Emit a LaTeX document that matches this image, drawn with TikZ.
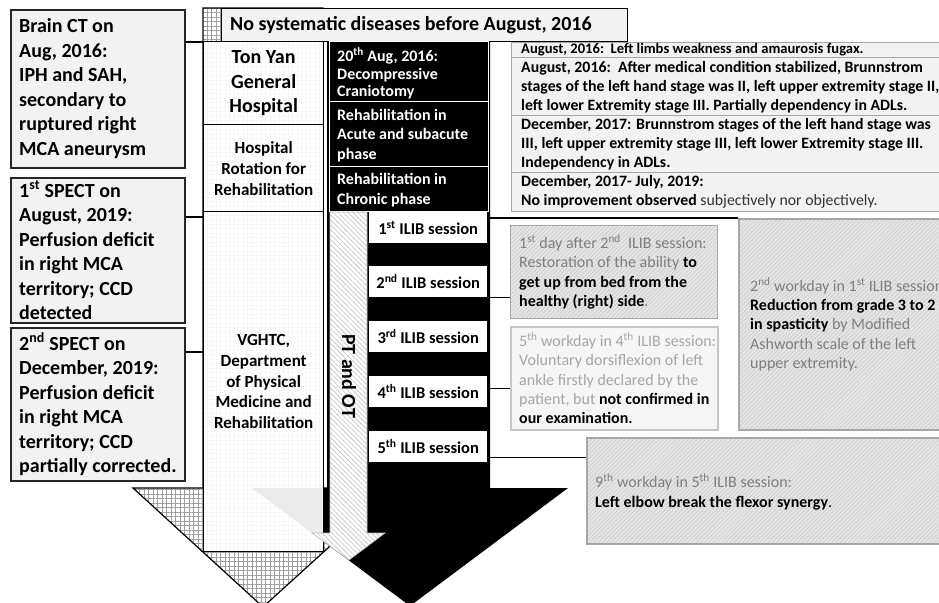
\documentclass[tikz,border=0pt]{standalone}
\usepackage{fontspec}
\setmainfont{Carlito}
\usetikzlibrary{patterns.meta,calc}
\definecolor{boxfill}{HTML}{F2F2F2}
\definecolor{txtgray}{HTML}{7F7F7F}
\definecolor{txtlight}{HTML}{A6A6A6}
\definecolor{bordergray}{HTML}{A6A6A6}
\begin{document}
\begin{tikzpicture}[x=1pt,y=-1pt,
  lbox/.style={draw=black!85, line width=1.6pt, fill=boxfill, anchor=north west, minimum width=174pt, inner sep=0pt},
  ltext/.style={anchor=west, align=left, inner sep=0pt, font=\fontsize{20}{24.5}\selectfont\bfseries},
  hosp/.style={draw=black, line width=1.3pt, fill=white, fill opacity=0.92, text opacity=1, draw opacity=1, anchor=north west, minimum width=120pt, inner sep=0pt, align=center},
  blk/.style={fill=black, draw=white, line width=1pt, anchor=north west, minimum width=159pt, inner sep=0pt},
  btext/.style={anchor=west, align=left, inner sep=0pt, text=white, font=\fontsize{16}{19.5}\selectfont\bfseries},
  ilib/.style={fill=white, anchor=north west, minimum width=118pt, minimum height=31pt, inner sep=0pt, font=\fontsize{16.5}{19}\selectfont\bfseries},
  rowbox/.style={draw=bordergray, line width=1pt, fill=boxfill, anchor=north west, minimum width=434pt, inner sep=0pt},
  rtext/.style={anchor=west, align=left, inner sep=0pt, font=\fontsize{15.8}{19}\selectfont\bfseries},
  stripebox/.style={draw=bordergray, line width=1.5pt, anchor=north west, inner sep=0pt, preaction={fill=gray!20}, pattern={Lines[angle=45,distance=3pt,line width=0.5pt]}, pattern color=gray!45},
  lightbox/.style={draw=gray!45, line width=1.5pt, fill=gray!7, anchor=north west, inner sep=0pt},
  gtext/.style={anchor=west, align=left, inner sep=0pt, font=\fontsize{16}{19.3}\selectfont},
  conn/.style={draw=black, line width=1.3pt}]
\useasboundingbox (0,0) rectangle (939,602);

% crosshatched arrow (hospital column)
\path[draw=black, line width=1.2pt, preaction={fill=white}, pattern={Hatch[angle=0,distance=4.5pt,line width=0.5pt]}, pattern color=gray!75]
  (203,8) -- (323,8) -- (323,488) -- (394,488) -- (263,607) -- (133,488) -- (203,488) -- cycle;

% black arrow (treatment column)
\path[fill=black] (327,41) -- (490,41) -- (490,488) -- (568,488) -- (410,606) -- (252,488) -- (327,488) -- cycle;

% hospital boxes
\node[hosp, minimum height=83pt, font=\fontsize{20}{24.5}\selectfont\bfseries] (ton) at (203,41) {Ton Yan\\General\\Hospital};
\node[hosp, minimum height=87pt, font=\fontsize{17}{21}\selectfont\bfseries] (rot) at (203,124) {Hospital\\Rotation for\\Rehabilitation};
\node[hosp, minimum height=340pt, font=\fontsize{17}{20.7}\selectfont\bfseries] (vghtc) at (203,211) {VGHTC,\\Department\\of Physical\\Medicine and\\Rehabilitation};

% header
\node[draw=black, line width=1.3pt, fill=boxfill, anchor=north west, minimum width=406pt, minimum height=33pt, inner sep=0pt] (hdr) at (221,8) {};
\node[anchor=west, inner sep=0pt, font=\fontsize{20}{24}\selectfont\bfseries] (hdrt) at ([xshift=9pt]hdr.west) {No systematic diseases before August, 2016};

% black boxes
\node[blk, minimum height=60pt] (bb1) at (329,41) {};
\node[blk, minimum height=65pt] (bb2) at (329,101) {};
\node[blk, minimum height=45pt] (bb3) at (329,166) {};
\node[btext, font=\fontsize{16}{17.5}\selectfont\bfseries] (bb1t) at ([xshift=8pt,yshift=-2pt]bb1.west) {20\textsuperscript{th} Aug, 2016:\\Decompressive\\Craniotomy};
\node[btext] (bb2t) at ([xshift=8pt,yshift=-1.5pt]bb2.west) {Rehabilitation in\\Acute and subacute\\phase};
\node[btext] (bb3t) at ([xshift=8pt,yshift=-1pt]bb3.west) {Rehabilitation in\\Chronic phase};

% PT and OT arrow
\path[draw=gray!55, line width=0.6pt, preaction={fill=white}, pattern={Lines[angle=-45,distance=3.5pt,line width=0.8pt]}, pattern color=gray!40]
  (330,212) -- (367,212) -- (367,533) -- (385,533) -- (349,560) -- (312,533) -- (330,533) -- cycle;
\node[rotate=-90, inner sep=0pt, font=\fontsize{20}{24}\selectfont\bfseries] (pt) at (349,376) {PT and OT};

% ILIB sessions
\node[ilib] (s1) at (369,212) {1\textsuperscript{st} ILIB session};
\node[ilib] (s2) at (369,266) {2\textsuperscript{nd} ILIB session};
\node[ilib] (s3) at (369,321) {3\textsuperscript{rd} ILIB session};
\node[ilib] (s4) at (369,376) {4\textsuperscript{th} ILIB session};
\node[ilib] (s5) at (369,431) {5\textsuperscript{th} ILIB session};

% right timeline rows
\node[rowbox, minimum height=15pt] (r1) at (511,42) {};
\node[rowbox, minimum height=58pt] (r2) at (511,57) {};
\node[rowbox, minimum height=57pt] (r3) at (511,115) {};
\node[rowbox, minimum height=39pt] (r4) at (511,172) {};
\node[rtext, font=\fontsize{14.6}{17}\selectfont\bfseries] (r1t) at ([xshift=10pt]r1.west) {August, 2016:~~Left limbs weakness and amaurosis fugax.};
\node[rtext] (r2t) at ([xshift=10pt,yshift=-1pt]r2.west) {August, 2016:~~After medical condition stabilized, Brunnstrom\\stages of the left hand stage was II, left upper extremity stage II,\\left lower Extremity stage III. Partially dependency in ADLs.};
\node[rtext] (r3t) at ([xshift=10pt]r3.west) {December, 2017: Brunnstrom stages of the left hand stage was\\III, left upper extremity stage III, left lower Extremity stage III.\\Independency in ADLs.};
\node[rtext] (r4t) at ([xshift=10pt]r4.west) {December, 2017- July, 2019:\\No improvement observed {\mdseries\color{black!80}subjectively nor objectively.}};

% outcome boxes
\node[stripebox, minimum width=207pt, minimum height=93pt] (d1) at (510,225) {};
\node[lightbox, minimum width=207pt, minimum height=103pt] (d4) at (510,326) {};
\node[stripebox, minimum width=212pt, minimum height=211pt] (w2) at (738,218) {};
\node[stripebox, minimum width=362pt, minimum height=106pt] (w9) at (586,437) {};

\node[gtext] (d1t) at ([xshift=9pt]d1.west) {{\color{txtgray}1\textsuperscript{st} day after 2\textsuperscript{nd}~ ILIB session:}\\{\color{txtgray}Restoration of the ability} \textbf{to}\\\textbf{get up from bed from the}\\\textbf{healthy (right) side}{\color{txtgray}.}};
\node[gtext] (d4t) at ([xshift=9pt]d4.west) {{\color{txtlight}5\textsuperscript{th} workday in 4\textsuperscript{th} ILIB session:}\\{\color{txtlight}Voluntary dorsiflexion of left}\\{\color{txtlight}ankle firstly declared by the}\\{\color{txtlight}patient, but} \textbf{not confirmed in}\\\textbf{our examination.}};
\node[gtext] (w2t) at ([xshift=12pt]w2.west) {{\color{txtgray}2\textsuperscript{nd} workday in 1\textsuperscript{st} ILIB session:}\\\textbf{Reduction from grade 3 to 2}\\\textbf{in spasticity} {\color{txtgray}by Modified}\\{\color{txtgray}Ashworth scale of the left}\\{\color{txtgray}upper extremity.}};
\node[gtext] (w9t) at ([xshift=9pt,yshift=-1pt]w9.west) {{\color{txtgray}9\textsuperscript{th} workday in 5\textsuperscript{th} ILIB session:}\\\textbf{Left elbow break the flexor synergy}.};

% left findings boxes
\node[lbox, minimum height=158pt] (b1) at (10,9) {};
\node[lbox, minimum height=145pt] (b2) at (10,177) {};
\node[lbox, minimum height=153pt] (b3) at (10,327) {};
\node[ltext] (b1t) at ([xshift=9pt]b1.west) {Brain CT on\\Aug, 2016:\\IPH and SAH,\\secondary to\\ruptured right\\MCA aneurysm};
\node[ltext] (b2t) at ([xshift=9pt]b2.west) {1\textsuperscript{st} SPECT on\\August, 2019:\\Perfusion deficit\\in right MCA\\territory; CCD\\detected};
\node[ltext] (b3t) at ([xshift=9pt]b3.west) {2\textsuperscript{nd} SPECT on\\December, 2019:\\Perfusion deficit\\in right MCA\\territory; CCD\\partially corrected.};

% connectors
\coordinate (c1) at (203,42);
\coordinate (c2) at (203,217);
\coordinate (c3) at (203,352);
\draw[conn] (b1.east |- c1) -- (c1);
\draw[conn] (b2.east |- c2) -- (c2);
\draw[conn] (b3.east |- c3) -- (c3);
\draw[conn] (s1.east |- w2.north west) -- (w2.north west);
\draw[conn] (s2.south east) -- (d1.west |- s2.south east);
\draw[conn] ([yshift=3pt]s4.east) -- ([yshift=3pt]s4.east -| d4.west);
\draw[conn] ([yshift=-10.5pt]s5.east) -- ([yshift=-10.5pt]s5.east -| w9.west);
\end{tikzpicture}
\end{document}
